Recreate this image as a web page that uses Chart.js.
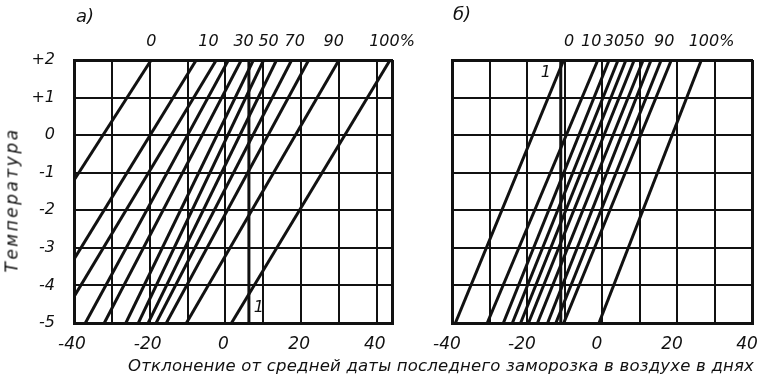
<!DOCTYPE html>
<html>
<head>
<meta charset="utf-8">
<script src="https://cdn.jsdelivr.net/npm/chart.js@4.4.1/dist/chart.umd.min.js"></script>
<style>
  html, body { margin: 0; padding: 0; background: #fff; }
  #wrap { position: relative; width: 757px; height: 383px; overflow: hidden;
          font-family: "DejaVu Sans", sans-serif; font-style: italic; color: #111; }
  #wrap canvas { position: absolute; left: 0; top: 0; }
  .txt { position: absolute; white-space: nowrap; line-height: 1; }
</style>
</head>
<body>
<div id="wrap">
  <canvas id="chartA" width="757" height="383"></canvas>
  <canvas id="chartB" width="820" height="383"></canvas>
  <div class="txt" style="left:76px; top:7px; font-size:18px;">а)</div>
  <div class="txt" style="left:453px; top:5px; font-size:18px;">б)</div>
  <div class="txt" style="left:12px; top:200px; font-size:17px; letter-spacing:2.5px; transform:translate(-50%,-50%) rotate(-90deg);">Температура</div>
  <div class="txt" style="left:128px; top:358px; font-size:16.5px; letter-spacing:0.2px;">Отклонение от средней даты последнего заморозка в воздухе в днях</div>
</div>
<script>
// Temperature grid (°C) and day grid shared by both panels
const temps = [-5, -4, -3, -2, -1, 0, 1, 2];
const dayGridA = [-40, -30, -20, -10, 0, 10, 20, 30, 40, 44];
const dayGridB = [-40, -30, -20, -10, 0, 10, 20, 30, 40];

// Panel а): probability lines, each from a start point to an end point (days, °C)
const curvesA = ['0', '5', '10', '20', '30', '40', '50', '60', '70', '80', '90', '100'];
const startDaysA = [-40, -40, -40, -37, -32, -26.3, -23, -20.4, -18.3, -15.6, -10.3, 1.6];
const startTempA = [-1.2, -3.3, -4.3, -5, -5, -5, -5, -5, -5, -5, -5, -5];
const endDaysA   = [-19.6, -7.7, -2.4, 0.8, 4.2, 7.4, 10.1, 13.5, 17.5, 22, 30, 43.5];
const endTempA   = [2, 2, 2, 2, 2, 2, 2, 2, 2, 2, 2, 2];
const verticalDayA = 6.2;
const topLabelsA = ['0', '10', '30', '50', '70', '90', '100%'];
const topLabelDaysA = [-19.6, -4.5, 4.8, 11.4, 18.3, 28.6, 44];
const markA = { text: '1', x: 8.8, y: -4.6 };

// Panel б): probability lines
const curvesB = ['0', '10', '20', '30', '40', '50', '60', '70', '80', '90', '100'];
const startDaysB = [-39.1, -30.6, -26.3, -23.9, -21.7, -19.6, -17.2, -14.5, -12.3, -10.2, -0.8];
const startTempB = [-5, -5, -5, -5, -5, -5, -5, -5, -5, -5, -5];
const endDaysB   = [-10.2, -1.1, 1.9, 4.3, 6.4, 8.6, 11, 13.1, 15.8, 18.5, 26.5];
const endTempB   = [2, 2, 2, 2, 2, 2, 2, 2, 2, 2, 2];
const verticalDayB = -11;
const topLabelsB = ['0', '10', '30', '50', '90', '100%'];
const topLabelDaysB = [-8.8, -2.9, 3.2, 8.6, 16.6, 29.2];
const markB = { text: '1', x: -15, y: 1.65 };

const INK = '#111';
const FONT = { family: '"DejaVu Sans", sans-serif', style: 'italic', size: 16 };

function lineSets(names, sx, sy, ex, ey, vx) {
  const sets = names.map((n, i) => ({
    label: n + '%',
    data: [{ x: sx[i], y: sy[i] }, { x: ex[i], y: ey[i] }],
    showLine: true, borderColor: INK, borderWidth: 3, pointRadius: 0, clip: 0
  }));
  sets.push({
    label: '1',
    data: [{ x: vx, y: temps[0] }, { x: vx, y: temps[temps.length - 1] }],
    showLine: true, borderColor: INK, borderWidth: 3, pointRadius: 0, clip: 0
  });
  return sets;
}

// Writes the curve mark "1" next to the vertical line
const markPlugin = {
  id: 'curveMark',
  afterDatasetsDraw(chart, args, opts) {
    const { ctx, scales } = chart;
    ctx.save();
    ctx.fillStyle = INK;
    ctx.font = 'italic 16px "DejaVu Sans", sans-serif';
    ctx.textAlign = 'center';
    ctx.textBaseline = 'middle';
    ctx.fillText(opts.text, scales.x.getPixelForValue(opts.x), scales.y.getPixelForValue(opts.y));
    ctx.restore();
  }
};

function gridWidth(edges) {
  return ctx => (ctx.tick && edges.includes(ctx.tick.value)) ? 3 : 2;
}

function makeChart(id, cfg) {
  return new Chart(document.getElementById(id), {
    type: 'scatter',
    data: { datasets: lineSets(cfg.names, cfg.sx, cfg.sy, cfg.ex, cfg.ey, cfg.vx) },
    plugins: [markPlugin],
    options: {
      responsive: false,
      animation: false,
      layout: { padding: { left: cfg.padLeft, right: cfg.padRight, top: 0, bottom: 0 } },
      plugins: { legend: { display: false }, tooltip: { enabled: false }, curveMark: cfg.mark },
      scales: {
        x: {
          type: 'linear', position: 'bottom', min: cfg.min, max: cfg.max,
          afterBuildTicks: s => { s.ticks = cfg.grid.map(v => ({ value: v })); },
          afterFit: s => { s.height = 60; },
          grid: { color: INK, lineWidth: gridWidth([cfg.min, cfg.max]), drawTicks: false },
          border: { display: true, color: INK, width: 3 },
          ticks: {
            padding: 11, color: INK, font: { ...FONT, size: 17 }, autoSkip: false, maxRotation: 0,
            labelOffset: cfg.xLabelShift,
            callback: v => (v % 20 === 0 && v <= 40) ? String(v) : ''
          }
        },
        x2: {
          type: 'linear', position: 'top', min: cfg.min, max: cfg.max,
          afterBuildTicks: s => { s.ticks = cfg.topDays.map(v => ({ value: v })); },
          afterFit: s => { s.height = 60; },
          grid: { display: false, drawTicks: false },
          border: { display: true, color: INK, width: 3 },
          ticks: {
            padding: 9, color: INK, font: FONT, autoSkip: false, maxRotation: 0,
            callback: (v, i) => cfg.topLabels[i]
          }
        },
        y: {
          type: 'linear', position: 'left', min: -5, max: 2,
          afterBuildTicks: s => { s.ticks = temps.map(v => ({ value: v })); },
          afterFit: s => { s.width = cfg.yWidth; },
          grid: { color: INK, lineWidth: gridWidth([-5, 2]), drawTicks: false },
          border: { display: true, color: INK, width: 3 },
          ticks: {
            display: cfg.yLabels, padding: 19, color: INK, font: FONT,
            callback: v => v > 0 ? '+' + v : String(v)
          }
        }
      }
    }
  });
}

makeChart('chartA', {
  names: curvesA, sx: startDaysA, sy: startTempA, ex: endDaysA, ey: endTempA, vx: verticalDayA,
  min: -40, max: 44, grid: dayGridA, topDays: topLabelDaysA, topLabels: topLabelsA,
  mark: markA, padLeft: 0, padRight: 365, yWidth: 74, yLabels: true, xLabelShift: -2
});

makeChart('chartB', {
  names: curvesB, sx: startDaysB, sy: startTempB, ex: endDaysB, ey: endTempB, vx: verticalDayB,
  min: -40, max: 40, grid: dayGridB, topDays: topLabelDaysB, topLabels: topLabelsB,
  mark: markB, padLeft: 452, padRight: 68, yWidth: 0, yLabels: false, xLabelShift: -5
});
</script>
</body>
</html>
